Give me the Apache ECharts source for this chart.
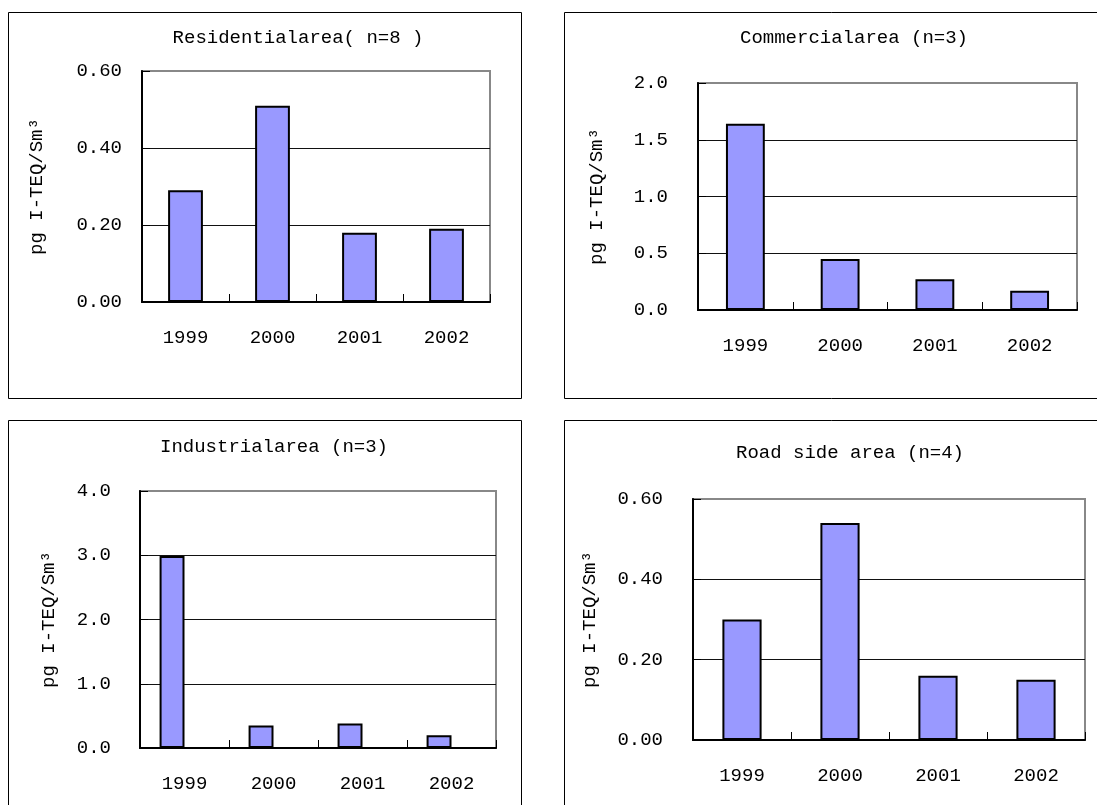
<!DOCTYPE html>
<html>
<head>
<meta charset="utf-8">
<title>Dioxin concentration by area</title>
<script src="https://cdn.jsdelivr.net/npm/echarts@6/dist/echarts.min.js"></script>
<style>
  html, body { margin: 0; padding: 0; background: #ffffff; }
  #chart { width: 1097px; height: 805px; }
</style>
</head>
<body>
<div id="chart"></div>
<script>
// Years on the category axis
const years = ['1999', '2000', '2001', '2002'];

// Annual mean concentrations (pg I-TEQ/Sm3) per area type
const residential = [0.29, 0.51, 0.18, 0.19];
const commercial  = [1.64, 0.45, 0.27, 0.17];
const industrial  = [2.99, 0.35, 0.38, 0.20];
const roadside    = [0.30, 0.54, 0.16, 0.15];

// Value-axis ticks for each panel
const residentialTicks = [0, 0.2, 0.4, 0.6];
const commercialTicks  = [0, 0.5, 1.0, 1.5, 2.0];
const industrialTicks  = [0, 1, 2, 3, 4];
const roadsideTicks    = [0, 0.2, 0.4, 0.6];

// Panel headings
const titles = [
  'Residentialarea( n=8 )',
  'Commercialarea (n=3)',
  'Industrialarea (n=3)',
  'Road side area (n=4)'
];
const unitLabel = 'pg I-TEQ/Sm\u00b3';

const FONT = 'Liberation Mono';
const INK = '#000000';
const BAR_FILL = '#9999ff';

// Plot rectangles and text placement for the 2x2 layout
const panels = [
  { grid: { left: 142, top: 71, width: 348, height: 231 }, ticks: residentialTicks, dec: 2, labelMargin: 20, nameGap: 96,
    title: [298, 38], box: [8.5, 12.5, 513, 386] },
  { grid: { left: 698, top: 83, width: 379, height: 227 }, ticks: commercialTicks, dec: 1, labelMargin: 30, nameGap: 92,
    title: [854, 38], box: [564.5, 12.5, 600, 386] },
  { grid: { left: 140, top: 491, width: 356, height: 257 }, ticks: industrialTicks, dec: 1, labelMargin: 29, nameGap: 82,
    title: [274, 447], box: [8.5, 420.5, 513, 500] },
  { grid: { left: 693, top: 499, width: 392, height: 241 }, ticks: roadsideTicks, dec: 2, labelMargin: 30, nameGap: 94,
    title: [850, 453], box: [564.5, 420.5, 600, 500] }
];

const textStyle = { fontFamily: FONT, fontSize: 19, color: INK };

const grids = panels.map(p => Object.assign({
  show: true,
  backgroundColor: '#ffffff',
  borderColor: '#888888',
  borderWidth: 2,
  outerBoundsMode: 'none',
  containLabel: false
}, p.grid));

const xAxes = panels.map((p, i) => ({
  type: 'category',
  gridIndex: i,
  data: years,
  boundaryGap: true,
  axisLine: { show: true, lineStyle: { color: INK, width: 2 } },
  axisTick: { show: true, inside: true, length: 8, alignWithLabel: false, lineStyle: { color: INK, width: 1 } },
  axisLabel: Object.assign({ margin: 26 }, textStyle),
  splitLine: { show: false }
}));

const yAxes = panels.map((p, i) => {
  const t = p.ticks;
  return {
    type: 'value',
    gridIndex: i,
    min: t[0],
    max: t[t.length - 1],
    interval: t[1] - t[0],
    name: unitLabel,
    nameLocation: 'middle',
    nameRotate: 90,
    nameGap: p.nameGap,
    nameTextStyle: textStyle,
    axisLine: { show: true, lineStyle: { color: INK, width: 2 } },
    axisTick: { show: true, inside: true, length: 8, lineStyle: { color: INK, width: 1 } },
    axisLabel: Object.assign({ margin: p.labelMargin, formatter: v => v.toFixed(p.dec) }, textStyle),
    splitLine: { show: true, showMinLine: false, showMaxLine: false, lineStyle: { color: '#111111', width: 1 } }
  };
});

const barItem = { color: BAR_FILL, borderColor: INK, borderWidth: 2 };

const series = [
  { type: 'bar', name: 'Residential', xAxisIndex: 0, yAxisIndex: 0, data: residential, barWidth: '40%', itemStyle: barItem, silent: true },
  { type: 'bar', name: 'Commercial', xAxisIndex: 1, yAxisIndex: 1, data: commercial, barWidth: '41%', itemStyle: barItem, silent: true },
  // Industrial panel: the measured series sits beside an empty companion slot
  { type: 'bar', name: 'Industrial', xAxisIndex: 2, yAxisIndex: 2, data: industrial, barWidth: '28%', barGap: '0%', itemStyle: barItem, silent: true },
  { type: 'bar', name: 'Industrial (blank)', xAxisIndex: 2, yAxisIndex: 2, data: years.map(() => null), barWidth: '28%', barGap: '0%', itemStyle: barItem, silent: true },
  { type: 'bar', name: 'Road side', xAxisIndex: 3, yAxisIndex: 3, data: roadside, barWidth: '40%', itemStyle: barItem, silent: true }
];

// Panel frames and headings
const graphics = [];
panels.forEach((p, i) => {
  graphics.push({
    type: 'rect', silent: true, z: -1,
    shape: { x: p.box[0], y: p.box[1], width: p.box[2], height: p.box[3] },
    style: { fill: 'none', stroke: INK, lineWidth: 1 }
  });
  graphics.push({
    type: 'text', silent: true,
    x: p.title[0], y: p.title[1],
    style: { text: titles[i], font: '19px "' + FONT + '"', fill: INK, textAlign: 'center', textVerticalAlign: 'middle' }
  });
});

const chart = echarts.init(document.getElementById('chart'), null, { renderer: 'canvas' });
chart.setOption({
  animation: false,
  backgroundColor: '#ffffff',
  grid: grids,
  xAxis: xAxes,
  yAxis: yAxes,
  series: series,
  graphic: graphics
});
</script>
</body>
</html>
